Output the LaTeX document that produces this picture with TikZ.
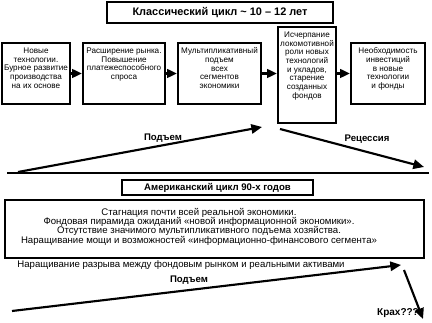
\documentclass[tikz,border=0pt]{standalone}
\usepackage{fontspec}
\setmainfont{Liberation Sans}
\usetikzlibrary{arrows.meta}
\tikzset{every picture/.style={line width=0.75pt}}

\begin{document}
\begin{tikzpicture}[x=0.75pt,y=0.75pt,yscale=-1,xscale=1,
  framebox/.style={draw, line width=1.5pt, inner sep=0pt},
  cycletitle/.style={framebox, font=\bfseries\fontsize{8.2}{9}\selectfont},
  stagetext/.style={anchor=north, align=center, inner xsep=0.75pt, inner ysep=4pt, font=\fontsize{6.1}{6.5}\selectfont},
  phase/.style={font=\bfseries\fontsize{7.2}{8}\selectfont, inner sep=0.75pt},
  flow/.style={line width=1.8pt, -{Triangle[length=7.5pt,width=6.5pt]}},
  trend/.style={line width=1.6pt, -{Triangle[length=8pt,width=7pt]}}]
\useasboundingbox (0,0) rectangle (432,323);

%Title: classic cycle
\node [cycletitle, minimum width=169.5pt, minimum height=15.75pt] (classic) at (220,12.5) {Классический цикл \char"7E\ 10 – 12 лет};

%Shape: stages of the cycle
\node [framebox, minimum width=51pt, minimum height=45.75pt] (stage1) at (36,73.5) {};
\node [framebox, minimum width=61.5pt, minimum height=45.75pt] (stage2) at (124,73.5) {};
\node [framebox, minimum width=62.25pt, minimum height=45.75pt] (stage3) at (219.5,73.5) {};
\node [framebox, minimum width=43.5pt, minimum height=72pt] (stage4) at (307,75) {};
\node [framebox, minimum width=55.5pt, minimum height=45.75pt] (stage5) at (388,73.5) {};

% Text Node
\node [stagetext] (text1) at (stage1.north) {Новые\\технологии.\\Бурное развитие\\производства\\на их основе};
\node [stagetext] (text2) at (stage2.north) {Расширение рынка.\\Повышение\\платежеспособного\\спроса};
\node [stagetext] (text3) at (stage3.north) {Мультипликативный\\подъем\\всех\\сегментов\\экономики};
\node [stagetext] (text4) at (stage4.north) {Исчерпание\\локомотивной\\роли новых\\технологий\\и укладов,\\старение\\созданных\\фондов};
\node [stagetext] (text5) at (stage5.north) {Необходимость\\инвестиций\\в новые\\технологии\\и фонды};

%Straight Lines: flow between stages
\draw [flow] (stage1) -- (stage2);
\draw [flow] (stage2) -- (stage3);
\draw [flow] (stage3.east) -- (stage3.east -| stage4.west);
\draw [flow] (stage3.east -| stage4.east) -- (stage5.west);

%Straight Lines: rise and recession
\coordinate (riseA) at (18,172);
\coordinate (riseB) at (262,127);
\coordinate (fallA) at (280,129);
\coordinate (fallB) at (424,167);
\draw [trend] (riseA) -- (riseB);
\draw [trend] (fallA) -- (fallB);
\node [phase] (rise) at (163,138) {Подъем};
\node [phase] (fall) at (367,139) {Рецессия};

%Straight Lines: separator
\coordinate (sepA) at (7,173);
\coordinate (sepB) at (429,173);
\draw [line width=1.5pt] (sepA) -- (sepB);

%Title: american cycle
\node [cycletitle, font=\bfseries\fontsize{7.2}{9}\selectfont, minimum width=143.25pt, minimum height=11.25pt] (american) at (217.5,187.5) {Американский цикл 90-х годов};

%Shape: Rectangle
\node [framebox, minimum width=314.25pt, minimum height=43.5pt] (stagnation) at (214.5,229) {};
\node [align=center, inner sep=0.75pt, font=\fontsize{7.2}{7}\selectfont] (stagtext) at (199,226.5) {Стагнация почти всей реальной экономики.\\Фондовая пирамида ожиданий «новой информационной экономики».\\Отсутствие значимого мультипликативного подъема хозяйства.\\Наращивание мощи и возможностей «информационно-финансового сегмента»};

% Text Node
\node [font=\fontsize{7.2}{8.3}\selectfont, inner sep=0.75pt] (gap) at (181,265.5) {Наращивание разрыва между фондовым рынком и реальными активами};
\node [phase] (rise2) at (189,280) {Подъем};
\node [phase, font=\bfseries\fontsize{7.5}{8}\selectfont] (crash) at (398,313) {Крах???};

%Straight Lines: bubble and crash
\coordinate (bubbleA) at (12,311);
\coordinate (bubbleB) at (401,265);
\coordinate (crashA) at (404,270);
\coordinate (crashB) at (423,319);
\draw [trend] (bubbleA) -- (bubbleB);
\draw [trend] (crashA) -- (crashB);

\end{tikzpicture}
\end{document}
